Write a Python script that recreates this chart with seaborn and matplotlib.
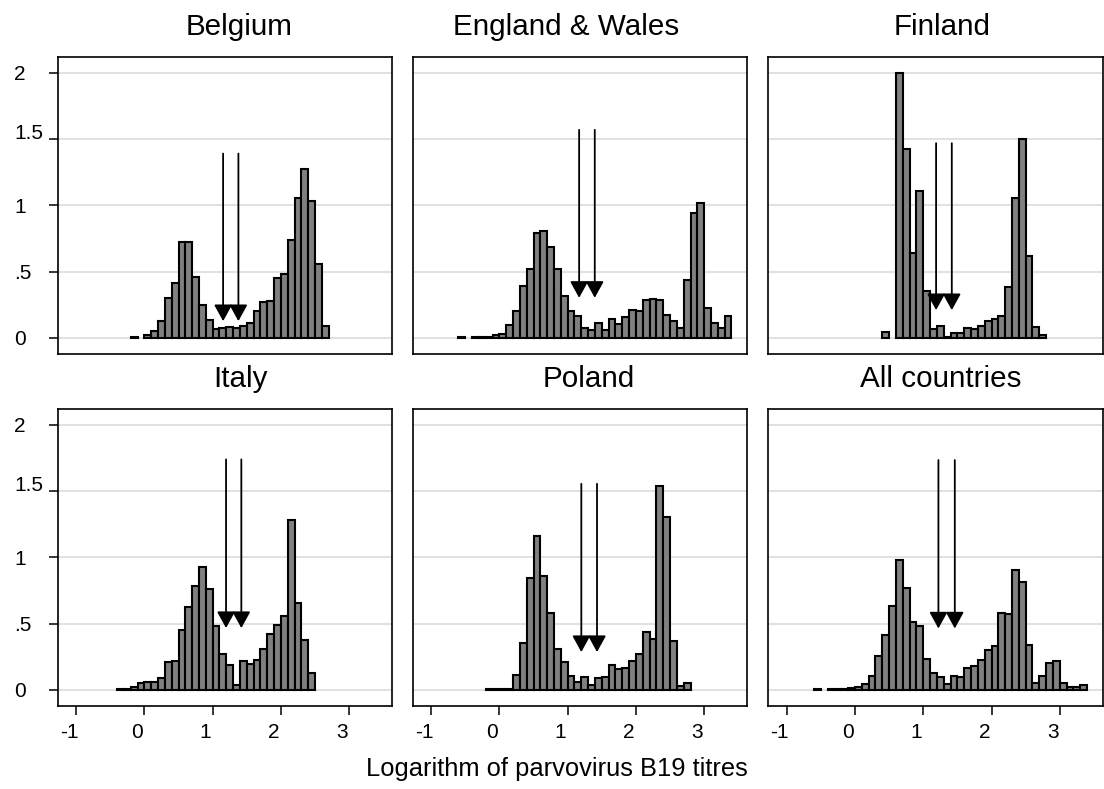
import numpy as np
import pandas as pd
import matplotlib
matplotlib.use("Agg")
import matplotlib.pyplot as plt
from matplotlib.transforms import ScaledTranslation
import seaborn as sns

# ---------------- data ----------------
countries = ["Belgium", "England & Wales", "Finland", "Italy", "Poland", "All countries"]
bin_width = 0.1

belgium_start = -0.2
belgium = [0.003, 0.0, 0.02, 0.05, 0.126, 0.30, 0.413, 0.725, 0.725, 0.456, 0.247, 0.131,
           0.07, 0.073, 0.083, 0.078, 0.086, 0.113, 0.2, 0.267, 0.28, 0.45, 0.479, 0.74,
           1.055, 1.27, 1.03, 0.554, 0.086]

england_start = -0.6
england = [0.003, 0.0, 0.003, 0.005, 0.008, 0.02, 0.028, 0.1, 0.2, 0.39, 0.52, 0.79, 0.806,
           0.683, 0.52, 0.312, 0.2, 0.166, 0.073, 0.058, 0.11, 0.063, 0.144, 0.108, 0.156,
           0.209, 0.204, 0.287, 0.292, 0.287, 0.17, 0.126, 0.073, 0.44, 0.94, 1.02, 0.227,
           0.113, 0.078, 0.164]

finland_start = 0.4
finland = [0.045, 0.0, 1.995, 1.428, 0.64, 1.106, 0.353, 0.07, 0.088, 0.004, 0.035, 0.035,
           0.078, 0.07, 0.086, 0.126, 0.144, 0.164, 0.383, 1.053, 1.499, 0.615, 0.083, 0.018]

italy_start = -0.4
italy = [0.008, 0.008, 0.018, 0.048, 0.058, 0.058, 0.088, 0.21, 0.214, 0.453, 0.627, 0.78,
         0.924, 0.76, 0.484, 0.272, 0.186, 0.033, 0.214, 0.194, 0.222, 0.307, 0.423, 0.489,
         0.554, 1.282, 0.657, 0.373, 0.126]

poland_start = -0.2
poland = [0.005, 0.005, 0.005, 0.008, 0.113, 0.353, 0.84, 1.164, 0.86, 0.58, 0.305, 0.209,
          0.106, 0.058, 0.098, 0.033, 0.091, 0.098, 0.189, 0.159, 0.164, 0.214, 0.267, 0.438,
          0.383, 1.536, 1.307, 0.365, 0.028, 0.048]

all_start = -0.6
all_countries = [0.003, 0.0, 0.003, 0.005, 0.008, 0.013, 0.02, 0.043, 0.108, 0.252, 0.413,
                 0.635, 0.982, 0.771, 0.514, 0.484, 0.234, 0.126, 0.1, 0.043, 0.103, 0.098,
                 0.164, 0.181, 0.222, 0.3, 0.33, 0.582, 0.569, 0.902, 0.814, 0.335, 0.053,
                 0.103, 0.199, 0.214, 0.048, 0.025, 0.018, 0.033]

starts = [belgium_start, england_start, finland_start, italy_start, poland_start, all_start]
heights = [belgium, england, finland, italy, poland, all_countries]

# arrows: left x, right x, arrow top, arrow tip
arrow_x1 = [1.153, 1.168, 1.188, 1.196, 1.20, 1.222]
arrow_x2 = [1.377, 1.397, 1.418, 1.42, 1.43, 1.462]
arrow_top = [1.39, 1.569, 1.468, 1.738, 1.554, 1.733]
arrow_tip = [0.126, 0.302, 0.209, 0.466, 0.285, 0.463]

x_ticks = [-1, 0, 1, 2, 3]
x_ticklabels = ["-1", "0", "1", "2", "3"]
y_ticks = [0, 0.5, 1, 1.5, 2]
y_ticklabels = ["0", ".5", "1", "1.5", "2"]
x_label = "Logarithm of parvovirus B19 titres"

# ---------------- style ----------------
sns.set_theme(style="white")
plt.rcParams["font.family"] = ["Liberation Sans", "DejaVu Sans"]

W, H = 1104, 789
fig = plt.figure(figsize=(W / 100, H / 100), dpi=100)
fig.patch.set_facecolor("white")

cols_left = [57.7, 412.7, 768.3]
rows_top = [57.3, 409.3]
ax_w, ax_h = 334.5, 296.2
title_cx = [[239, 566, 942], [240, 589, 941]]
title_base = [35, 387]
tick_fs = 15

for i, name in enumerate(countries):
    r, c = divmod(i, 3)
    left = cols_left[c]
    top = rows_top[r]
    ax = fig.add_axes([left / W, 1 - (top + ax_h) / H, ax_w / W, ax_h / H])

    h = [float(v) for v in heights[i]]
    edges = [round(starts[i] + bin_width * k, 4) for k in range(len(h) + 1)]
    centers = [round(e + bin_width / 2, 4) for e in edges[:-1]]
    df = pd.DataFrame({"x": centers, "w": h})
    sns.histplot(data=df, x="x", weights="w", bins=edges, stat="count",
                 color="#808080", edgecolor="black", linewidth=1.5, alpha=1.0, ax=ax)
    for p in list(ax.patches):
        if p.get_height() == 0:
            p.remove()

    ax.set_xlim(-1.27, 3.63)
    ax.set_ylim(-0.118, 2.116)
    ax.set_xlabel("")
    ax.set_ylabel("")
    ax.set_facecolor("white")
    ax.set_axisbelow(True)
    ax.yaxis.grid(True, color="#dedede", linewidth=1.3)
    ax.xaxis.grid(False)
    for s in ax.spines.values():
        s.set_color("black")
        s.set_linewidth(1.2)

    ax.set_yticks(y_ticks)
    ax.set_yticklabels(y_ticklabels, fontsize=tick_fs, color="black")
    ax.set_xticks(x_ticks)
    ax.set_xticklabels(x_ticklabels, fontsize=tick_fs, color="black")

    if c == 0:
        ax.tick_params(axis="y", left=True, length=6.5, width=1.1, color="black", pad=25)
        for lab in ax.get_yticklabels():
            lab.set_horizontalalignment("left")
            lab.set_fontsize(tick_fs)
            if lab.get_text() == "1.5":
                lab.set_verticalalignment("baseline")
    else:
        ax.tick_params(axis="y", left=False, labelleft=False)

    if r == 1:
        ax.tick_params(axis="x", bottom=True, length=6.5, width=1.1, color="black", pad=6)
        off = ScaledTranslation(-7 / 100, 0, fig.dpi_scale_trans)
        for lab in ax.get_xticklabels():
            lab.set_fontsize(tick_fs)
            lab.set_transform(lab.get_transform() + off)
    else:
        ax.tick_params(axis="x", bottom=False, labelbottom=False)

    for xa in (arrow_x1[i], arrow_x2[i]):
        ax.annotate("", xy=(xa, arrow_tip[i]), xytext=(xa, arrow_top[i]),
                    arrowprops=dict(arrowstyle="-|>,head_length=1.0,head_width=0.55",
                                    mutation_scale=10, lw=1.3, color="black",
                                    shrinkA=0, shrinkB=0))

    fig.text(title_cx[r][c] / W, 1 - title_base[r] / H, name, ha="center",
             va="baseline", fontsize=21.3, color="black")

fig.text(557 / W, 1 - 776 / H, x_label, ha="center", va="baseline", fontsize=18.4,
         color="black")

fig.savefig("out.png", dpi=100, facecolor="white")
